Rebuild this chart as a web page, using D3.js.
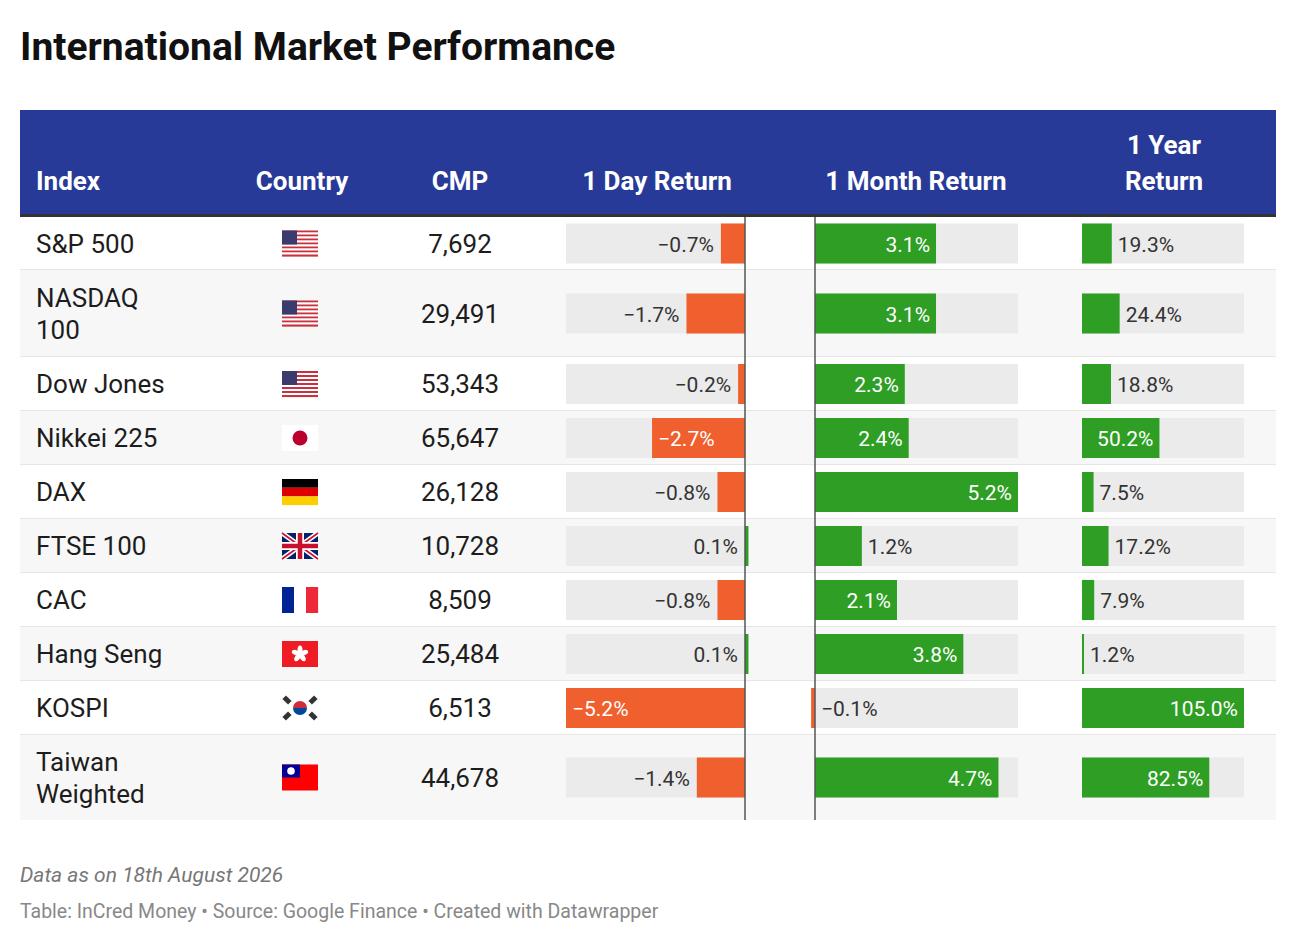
<html>
<head>
<title>International Market Performance</title>
<script src="https://cdn.jsdelivr.net/npm/d3@7"></script>
<style>
	body { margin: 0; background: #fff; font-family: Roboto, sans-serif; }
</style>
</head>
<body>
<div id="table"></div>
<script>
	var W = 1296, H = 944;
	var data = [
		{name: ["S&P 500"], flag: "us", cmp: "7,692", day: -0.7, month: 3.1, year: 19.3, top: 217, bot: 270},
		{name: ["NASDAQ", "100"], flag: "us", cmp: "29,491", day: -1.7, month: 3.1, year: 24.4, top: 270, bot: 357},
		{name: ["Dow Jones"], flag: "us", cmp: "53,343", day: -0.2, month: 2.3, year: 18.8, top: 357, bot: 411},
		{name: ["Nikkei 225"], flag: "jp", cmp: "65,647", day: -2.7, month: 2.4, year: 50.2, top: 411, bot: 465},
		{name: ["DAX"], flag: "de", cmp: "26,128", day: -0.8, month: 5.2, year: 7.5, top: 465, bot: 519},
		{name: ["FTSE 100"], flag: "gb", cmp: "10,728", day: 0.1, month: 1.2, year: 17.2, top: 519, bot: 573},
		{name: ["CAC"], flag: "fr", cmp: "8,509", day: -0.8, month: 2.1, year: 7.9, top: 573, bot: 627},
		{name: ["Hang Seng"], flag: "hk", cmp: "25,484", day: 0.1, month: 3.8, year: 1.2, top: 627, bot: 681},
		{name: ["KOSPI"], flag: "kr", cmp: "6,513", day: -5.2, month: -0.1, year: 105.0, top: 681, bot: 735},
		{name: ["Taiwan", "Weighted"], flag: "tw", cmp: "44,678", day: -1.4, month: 4.7, year: 82.5, top: 735, bot: 820}
	];

	var orange = "#f05f2e", green = "#2e9e24", track = "#ebebeb";

	var svg = d3.select("#table").append("svg").attr("width", W).attr("height", H);

	svg.append("text").attr("x", 20).attr("y", 60)
		.attr("font-size", "39px").attr("font-weight", 700).attr("fill", "#111")
		.text("International Market Performance");

	// header
	svg.append("rect").attr("x", 20).attr("y", 110).attr("width", 1256).attr("height", 104).attr("fill", "#283a97");
	svg.append("rect").attr("x", 20).attr("y", 214).attr("width", 1256).attr("height", 3).attr("fill", "#333");
	var heads = [
		{t: ["Index"], x: 36, a: "start"},
		{t: ["Country"], x: 302, a: "middle"},
		{t: ["CMP"], x: 460, a: "middle"},
		{t: ["1 Day Return"], x: 657, a: "middle"},
		{t: ["1 Month Return"], x: 916, a: "middle"},
		{t: ["1 Year", "Return"], x: 1164, a: "middle"}
	];
	heads.forEach(function(h) {
		h.t.forEach(function(line, i) {
			svg.append("text").attr("x", h.x).attr("y", 190 - (h.t.length - 1 - i) * 36)
				.attr("text-anchor", h.a).attr("font-size", "26px").attr("font-weight", 700)
				.attr("fill", "#fff").text(line);
		});
	});

	// scales
	var dayScale = d3.scaleLinear().domain([-5.2, 0]).range([566, 745]);
	var monthScale = d3.scaleLinear().domain([0, 5.2]).range([815, 1018]);
	var yearScale = d3.scaleLinear().domain([0, 105]).range([1082, 1244]);

	var rows = svg.selectAll(".row").data(data).enter().append("g").attr("class", "row");

	rows.append("rect").attr("x", 20).attr("width", 1256)
		.attr("y", function(d) { return d.top; })
		.attr("height", function(d) { return d.bot - d.top; })
		.attr("fill", function(d, i) { return i % 2 ? "#f7f7f7" : "#fff"; });
	rows.filter(function(d, i) { return i < data.length - 1; })
		.append("rect").attr("x", 20).attr("width", 1256)
		.attr("y", function(d) { return d.bot - 1; }).attr("height", 2).attr("fill", "#e6e6e6");

	function mid(d) { return (d.top + d.bot) / 2; }

	rows.each(function(d) {
		var g = d3.select(this), cy = mid(d);
		d.name.forEach(function(line, i) {
			g.append("text").attr("x", 36)
				.attr("y", cy + 9 + (i - (d.name.length - 1) / 2) * 32)
				.attr("font-size", "26px").attr("fill", "#1d1d1d").text(line);
		});
		g.append("text").attr("x", 460).attr("y", cy + 9).attr("text-anchor", "middle")
			.attr("font-size", "26px").attr("fill", "#1d1d1d").text(d.cmp);
		drawFlag(g.append("g").attr("transform", "translate(282," + (cy - 13) + ")"), d.flag);

		barCell(g, cy, d.day, dayScale, 566, 745, "left");
		barCell(g, cy, d.month, monthScale, 815, 1018, "right");
		barCell(g, cy, d.year, yearScale, 1082, 1244, "right");
	});

	function fmt(v) { return (v < 0 ? "\u2212" : "") + Math.abs(v).toFixed(1) + "%"; }

	function barCell(g, cy, v, scale, x0, x1, side) {
		var zero = scale(0);
		g.append("rect").attr("x", x0).attr("width", x1 - x0).attr("y", cy - 20).attr("height", 40).attr("fill", track);
		var xv = scale(v);
		var bx = Math.min(zero, xv), bw = Math.max(Math.abs(xv - zero), 2);
		if (v > 0 && side == "left") { bx = zero; }
		if (v < 0 && side == "right") { bx = zero - bw; }
		g.append("rect").attr("x", bx).attr("width", bw).attr("y", cy - 20).attr("height", 40)
			.attr("fill", v < 0 ? orange : green);
		var t = g.append("text").attr("y", cy + 8).attr("font-size", "21px").text(fmt(v));
		var tw = t.node().getComputedTextLength();
		var inside = bw > tw + 18;
		if (side == "left") {
			if (inside) t.attr("x", bx + 6).attr("fill", "#fff");
			else t.attr("x", (v < 0 ? bx : zero) - 7).attr("text-anchor", "end").attr("fill", "#333");
		} else {
			if (inside) t.attr("x", bx + bw - 6).attr("text-anchor", "end").attr("fill", "#fff");
			else t.attr("x", (v < 0 ? zero : bx + bw) + 6).attr("fill", "#333");
		}
	}

	// zero lines
	svg.append("line").attr("x1", dayScale(0)).attr("x2", dayScale(0)).attr("y1", 217).attr("y2", 820).attr("stroke", "#555").attr("stroke-width", 1.5);
	svg.append("line").attr("x1", monthScale(0)).attr("x2", monthScale(0)).attr("y1", 217).attr("y2", 820).attr("stroke", "#555").attr("stroke-width", 1.5);

	function drawFlag(f, c) {
		var w = 36, h = 26;
		if (c == "us") {
			for (var i = 0; i < 13; i++)
				f.append("rect").attr("x", 0).attr("y", i * h / 13).attr("width", w).attr("height", h / 13 + 0.1).attr("fill", i % 2 ? "#fff" : "#c8313e");
			f.append("rect").attr("width", 15).attr("height", 14).attr("fill", "#3b3b6d");
		} else if (c == "jp") {
			f.append("rect").attr("width", w).attr("height", h).attr("fill", "#fff");
			f.append("circle").attr("cx", w / 2).attr("cy", h / 2).attr("r", 7.5).attr("fill", "#bc002d");
		} else if (c == "de") {
			["#000", "#dd0000", "#ffce00"].forEach(function(col, i) {
				f.append("rect").attr("y", i * h / 3).attr("width", w).attr("height", h / 3 + 0.1).attr("fill", col);
			});
		} else if (c == "fr") {
			["#002395", "#fff", "#ed2939"].forEach(function(col, i) {
				f.append("rect").attr("x", i * w / 3).attr("width", w / 3 + 0.1).attr("height", h).attr("fill", col);
			});
		} else if (c == "gb") {
			f.append("rect").attr("width", w).attr("height", h).attr("fill", "#012169");
			f.append("path").attr("d", "M0,0L36,26M36,0L0,26").attr("stroke", "#fff").attr("stroke-width", 5);
			f.append("path").attr("d", "M0,0L36,26M36,0L0,26").attr("stroke", "#c8102e").attr("stroke-width", 1.6);
			f.append("path").attr("d", "M18,0V26M0,13H36").attr("stroke", "#fff").attr("stroke-width", 8);
			f.append("path").attr("d", "M18,0V26M0,13H36").attr("stroke", "#c8102e").attr("stroke-width", 4.5);
		} else if (c == "hk") {
			f.append("rect").attr("width", w).attr("height", h).attr("fill", "#ee1c25");
			for (var k = 0; k < 5; k++)
				f.append("ellipse").attr("cx", 18).attr("cy", 9).attr("rx", 2.5).attr("ry", 4.5)
					.attr("fill", "#fff").attr("transform", "rotate(" + (k * 72) + ",18,13)");
		} else if (c == "kr") {
			f.append("rect").attr("width", w).attr("height", h).attr("fill", "#fff");
			f.append("path").attr("d", "M11,13A7,7 0 0 1 25,13Z").attr("fill", "#cd2e3a");
			f.append("path").attr("d", "M11,13A7,7 0 0 0 25,13Z").attr("fill", "#0047a0");
			[[5, 5, 45], [31, 5, -45], [5, 21, -45], [31, 21, 45]].forEach(function(p) {
				f.append("rect").attr("x", p[0] - 4).attr("y", p[1] - 2.5).attr("width", 8).attr("height", 5)
					.attr("fill", "#333").attr("transform", "rotate(" + p[2] + "," + p[0] + "," + p[1] + ")");
			});
		} else if (c == "tw") {
			f.append("rect").attr("width", w).attr("height", h).attr("fill", "#fe0000");
			f.append("rect").attr("width", 18).attr("height", 13).attr("fill", "#000095");
			f.append("circle").attr("cx", 9).attr("cy", 6.5).attr("r", 3.8).attr("fill", "#fff");
		}
	}

	// footer
	svg.append("text").attr("x", 20).attr("y", 882).attr("font-size", "21px").attr("font-style", "italic")
		.attr("fill", "#777").text("Data as on 18th August 2026");
	svg.append("text").attr("x", 20).attr("y", 918).attr("font-size", "19.5px")
		.attr("fill", "#888").text("Table: InCred Money \u2022 Source: Google Finance \u2022 Created with Datawrapper");
</script>
</body>
</html>
